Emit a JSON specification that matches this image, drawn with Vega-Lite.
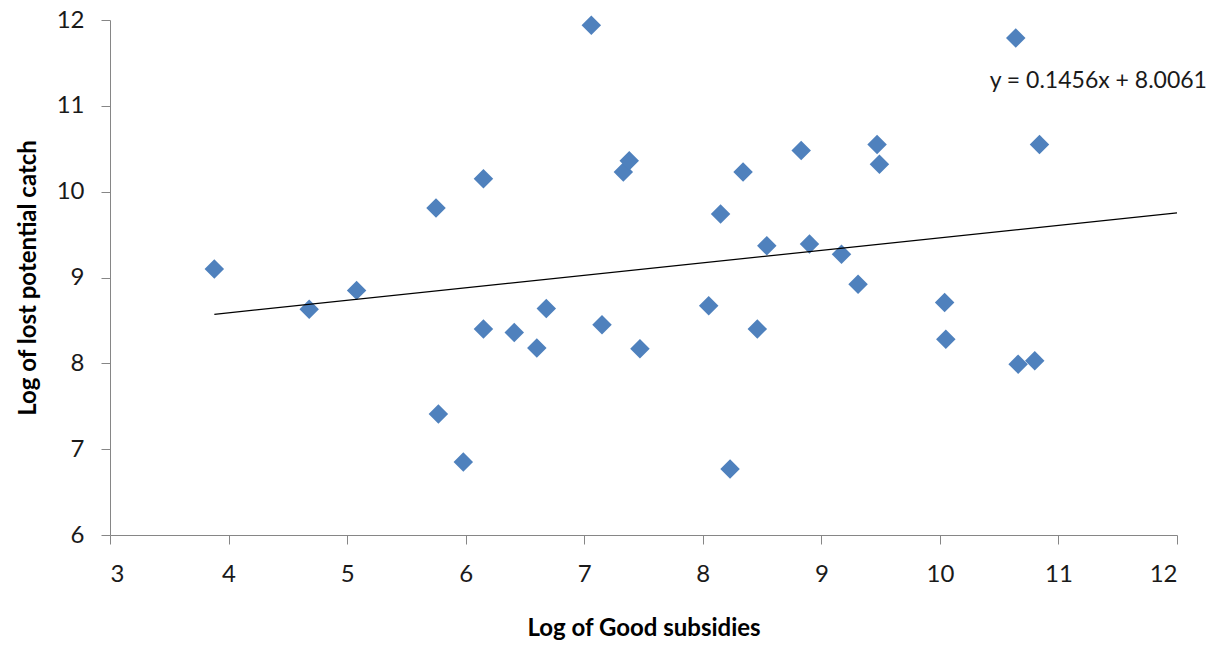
{
  "$schema": "https://vega.github.io/schema/vega-lite/v6.json",
  "width": 1067,
  "height": 515,
  "autosize": "none",
  "padding": {"left": 110, "top": 20, "right": 40, "bottom": 114},
  "background": "white",
  "config": {
    "view": {"stroke": null},
    "font": "Lato",
    "axis": {
      "grid": false,
      "domainColor": "#868686",
      "tickColor": "#868686",
      "tickSize": 9,
      "labelFont": "Lato",
      "labelFontSize": 24,
      "labelColor": "#1a1a1a",
      "titleFont": "Lato",
      "titleFontSize": 24,
      "titleFontWeight": "bold",
      "titleColor": "#000000"
    }
  },
  "datasets": {
    "points": [
      {"x": 3.88, "y": 9.10},
      {"x": 4.68, "y": 8.63},
      {"x": 5.08, "y": 8.85},
      {"x": 5.75, "y": 9.81},
      {"x": 5.77, "y": 7.41},
      {"x": 5.98, "y": 6.85},
      {"x": 6.15, "y": 10.15},
      {"x": 6.15, "y": 8.40},
      {"x": 6.41, "y": 8.36},
      {"x": 6.60, "y": 8.18},
      {"x": 6.68, "y": 8.64},
      {"x": 7.06, "y": 11.94},
      {"x": 7.15, "y": 8.45},
      {"x": 7.33, "y": 10.23},
      {"x": 7.38, "y": 10.36},
      {"x": 7.47, "y": 8.17},
      {"x": 8.05, "y": 8.67},
      {"x": 8.15, "y": 9.74},
      {"x": 8.23, "y": 6.77},
      {"x": 8.34, "y": 10.23},
      {"x": 8.46, "y": 8.40},
      {"x": 8.54, "y": 9.37},
      {"x": 8.83, "y": 10.48},
      {"x": 8.90, "y": 9.39},
      {"x": 9.17, "y": 9.27},
      {"x": 9.31, "y": 8.92},
      {"x": 9.47, "y": 10.55},
      {"x": 9.49, "y": 10.32},
      {"x": 10.04, "y": 8.71},
      {"x": 10.05, "y": 8.28},
      {"x": 10.64, "y": 11.79},
      {"x": 10.66, "y": 7.99},
      {"x": 10.80, "y": 8.03},
      {"x": 10.84, "y": 10.55}
    ],
    "trend": [
      {"x": 3.88, "y": 8.571},
      {"x": 12.0, "y": 9.753}
    ],
    "label": [
      {"x": 10.42, "y": 11.295, "text": "y = 0.1456x + 8.0061"}
    ]
  },
  "layer": [
    {
      "data": {"name": "points"},
      "mark": {"type": "point", "shape": "diamond", "filled": true, "size": 380, "color": "#4F81BD", "opacity": 1},
      "encoding": {
        "x": {
          "field": "x", "type": "quantitative",
          "scale": {"domain": [3, 12], "nice": false, "zero": false},
          "axis": {"values": [3, 4, 5, 6, 7, 8, 9, 10, 11, 12], "format": "d", "title": "Log of Good subsidies", "labelPadding": 18, "titlePadding": 30}
        },
        "y": {
          "field": "y", "type": "quantitative",
          "scale": {"domain": [6, 12], "nice": false, "zero": false},
          "axis": {"values": [6, 7, 8, 9, 10, 11, 12], "format": "d", "title": "Log of lost potential catch", "labelPadding": 17, "titlePadding": 16}
        }
      }
    },
    {
      "data": {"name": "trend"},
      "mark": {"type": "line", "color": "#000000", "strokeWidth": 1.3},
      "encoding": {
        "x": {"field": "x", "type": "quantitative"},
        "y": {"field": "y", "type": "quantitative"}
      }
    },
    {
      "data": {"name": "label"},
      "mark": {"type": "text", "align": "left", "baseline": "middle", "fontSize": 23, "font": "Lato", "color": "#1a1a1a"},
      "encoding": {
        "x": {"field": "x", "type": "quantitative"},
        "y": {"field": "y", "type": "quantitative"},
        "text": {"field": "text"}
      }
    }
  ]
}
